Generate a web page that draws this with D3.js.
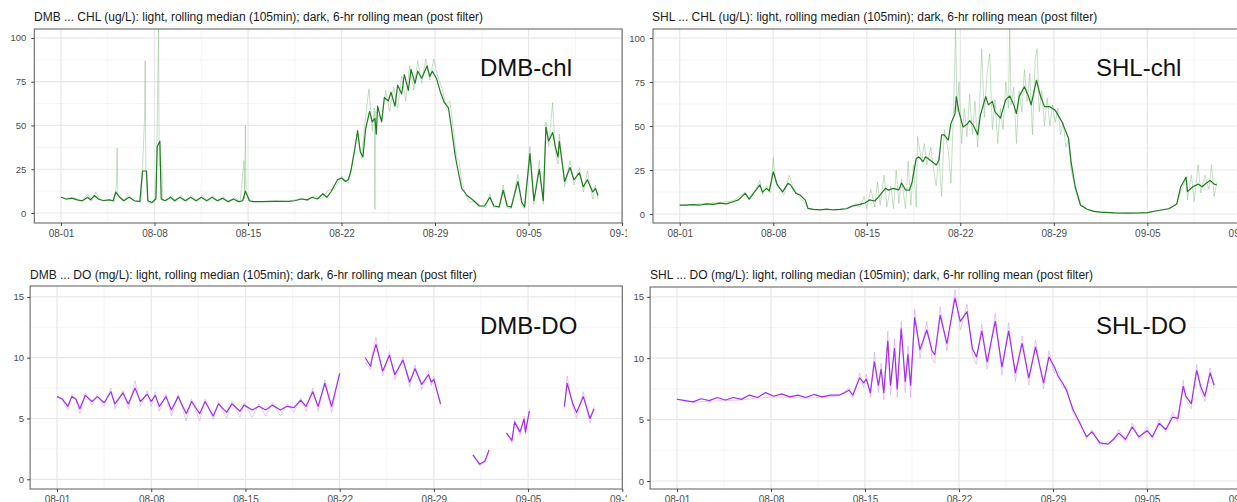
<!DOCTYPE html>
<html>
<head>
<meta charset="utf-8">
<script src="https://cdn.jsdelivr.net/npm/d3@7"></script>
<style>
body { margin: 0; background: #fff; }
svg text { font-family: "Liberation Sans", Arial, sans-serif; }
</style>
</head>
<body>
<svg id="chart" width="1237" height="502"></svg>
<script>
const tickDays = [0, 7, 14, 21, 28, 35, 42]
const chlTicks = [0, 25, 50, 75, 100]
const doTicks = [0, 5, 10, 15]

const dmbChlDark = [[0,9],[0.4,8],[0.8,8.5],[1.2,7.5],[1.6,7],[2,9],[2.2,7.5],[2.5,10],[2.8,8],[3.2,7],[3.6,7.5],[3.9,7],[4.1,12],[4.4,9],[4.7,7],[5.1,9],[5.5,7],[5.9,6.5],[6.1,24],[6.4,24],[6.5,7],[6.8,6],[7.1,8],[7.2,38],[7.4,41],[7.5,8],[7.8,7],[8.2,9],[8.5,7],[8.9,9],[9.3,7],[9.7,9],[10.1,7],[10.5,9],[10.9,7],[11.3,9],[11.7,7],[12.1,8.5],[12.5,6.5],[12.9,8],[13.3,6.5],[13.6,7],[13.8,12.5],[14.1,7],[14.4,6.5],[15,6.5],[16,6.6],[17,6.7],[17.5,7],[18,8],[18.4,7.5],[18.8,9],[19.2,8],[19.6,11],[19.9,9],[20.2,12],[20.7,19],[21,20],[21.3,18],[21.5,19],[21.7,24],[22,37],[22.2,47],[22.4,35],[22.6,32],[22.8,48],[23.1,58],[23.3,52],[23.5,54],[23.6,45],[23.7,61],[24,52],[24.2,66],[24.5,64],[24.7,69],[25,61],[25.2,73],[25.5,68],[25.7,79],[26,70],[26.2,82],[26.5,74],[26.7,81],[27,77],[27.4,84],[27.6,78],[27.8,81],[28.1,77],[28.4,69],[28.7,63],[29,60],[29.2,50],[29.5,33],[29.7,25],[30,14],[30.4,10],[30.9,7],[31.3,4],[31.7,4],[32.1,9],[32.4,4],[32.8,3.5],[33.1,13],[33.4,4],[33.7,3.4],[34.2,18],[34.5,6],[34.7,3.4],[35.1,34],[35.4,7],[35.8,25],[36.1,7],[36.3,49],[36.5,41],[36.8,46],[37,38],[37.2,32],[37.3,41],[37.7,18],[38.1,26],[38.4,19],[38.8,23],[39.1,15],[39.4,19],[39.8,12],[40,14],[40.2,10]]
const dmbChlLight = [[0,9],[0.5,7.5],[1,9],[1.5,6.5],[2,11],[2.3,7],[2.6,12],[3,7],[3.5,8],[4,6.5],[4.15,16],[4.2,37],[4.25,10],[4.6,7],[5.1,10],[5.5,6.5],[6,7],[6.1,25],[6.25,53],[6.3,87],[6.35,25],[6.5,6],[6.8,5.5],[7.1,9],[7.15,25],[7.3,105],[7.35,27],[7.55,27],[7.6,7],[8,8],[8.3,10],[8.6,6.5],[9,10],[9.4,6.5],[9.8,10],[10.2,6.5],[10.6,10],[11,6.5],[11.4,10],[11.8,6.5],[12.2,9],[12.6,6],[13,9],[13.4,6],[13.7,30],[13.75,8],[13.8,50],[13.85,12],[14.2,6.5],[15,6.5],[16,7],[17,6.5],[18,8.5],[18.5,7],[19,10],[19.5,8],[20,13],[20.5,14],[21,21],[21.5,17],[21.8,28],[22,38],[22.2,46],[22.5,31],[22.8,55],[23.05,71],[23.3,47],[23.45,60],[23.5,2],[23.55,58],[24,53],[24.3,70],[24.6,58],[24.9,72],[25.2,60],[25.5,78],[25.8,64],[26.1,84],[26.4,70],[26.7,87],[27,74],[27.3,88],[27.6,76],[27.9,88],[28.2,78],[28.5,72],[28.8,62],[29.1,64],[29.4,46],[29.6,32],[29.8,30],[30,18],[30.3,10],[30.6,6],[31,7],[31.4,4],[31.8,3],[32.1,11],[32.4,3],[32.8,3],[33.1,16],[33.4,3],[33.7,2.5],[34.2,22],[34.5,4],[34.7,2.5],[35.1,38],[35.4,5],[35.8,30],[36.1,5],[36.3,52],[36.5,38],[36.8,63],[37,34],[37.2,28],[37.3,45],[37.7,15],[38.1,30],[38.4,16],[38.8,26],[39.1,12],[39.4,24],[39.8,8],[40,16],[40.2,8]]

const shlChlDark = [[0,5.1],[0.5,5],[1,5.3],[1.5,5],[2,5.8],[2.5,5.5],[3,6.2],[3.5,5.8],[4,7],[4.4,8],[4.9,11.7],[5.2,8.5],[5.7,13.6],[6,16.5],[6.2,12.4],[6.5,14.6],[6.7,13],[7,24],[7.3,16.5],[7.7,12.6],[8.1,17.4],[8.3,16.5],[8.7,11.7],[9,10.8],[9.4,7.9],[9.6,3.2],[10,2.6],[10.5,2.4],[11,2.8],[11.5,2.3],[12,2.6],[12.5,3],[12.9,4.5],[13.5,5.5],[13.9,6.4],[14.2,8],[14.6,7.4],[14.9,9.9],[15.4,14.6],[15.6,13.6],[16,14.6],[16.4,13.7],[16.6,17.6],[16.9,13.7],[17.2,13.6],[17.4,18.5],[17.7,31.6],[17.9,32.5],[18.2,29.7],[18.4,32.5],[18.9,29.7],[19.2,27.8],[19.4,30.7],[19.6,45],[19.8,45],[20.1,42],[20.3,51.5],[20.6,57],[20.7,66.7],[20.9,58],[21.2,49.5],[21.5,51],[21.7,53],[22,50],[22.3,45],[22.5,56],[22.9,66.7],[23.1,62],[23.4,64],[23.6,58],[24,54.5],[24.4,65],[24.7,67],[25,62],[25.2,57],[25.4,66.7],[25.8,72.3],[26.1,67],[26.3,62],[26.7,76],[27,67],[27.3,61],[27.7,61],[28.1,59],[28.6,52.5],[29.1,43],[29.3,29],[29.6,15.5],[30,5],[30.5,2.7],[31,1.5],[31.5,1.1],[32.5,0.7],[33.5,0.5],[34.5,0.6],[35,0.8],[35.6,1.7],[36.6,3],[37.2,5.7],[37.5,15.5],[37.9,21],[38,12.7],[38.4,15.5],[38.8,17],[39.1,15.5],[39.4,17.5],[39.7,19],[40,17],[40.2,16.5]]
const shlChlLight = [[0,5],[1,5.5],[2,6],[3,6.5],[4,7.5],[4.9,12.5],[5.2,8],[5.7,14],[6,19],[6.2,11],[6.5,16],[6.8,12],[7,32],[7.2,18],[7.5,14],[7.8,11],[8.2,22],[8.5,15],[8.9,10],[9.3,7],[9.6,3],[10,2.5],[11,2.5],[12,2.7],[12.8,4],[13.2,6],[13.5,4],[13.8,10],[14,3],[14.3,14],[14.6,4],[14.8,18],[15,5],[15.3,22],[15.5,4],[15.8,16],[16,3],[16.2,25],[16.4,6],[16.6,20],[16.9,3],[17.1,30],[17.3,5],[17.5,28],[17.7,4],[17.8,44],[18.1,30],[18.3,40],[18.5,28],[18.8,38],[19,25],[19.2,16],[19.4,33],[19.6,10],[19.8,48],[20.1,36],[20.3,17.5],[20.5,60],[20.65,105],[20.75,58],[20.9,75],[21.1,40],[21.3,60],[21.5,44],[21.7,68],[21.9,45],[22.1,64],[22.3,38],[22.5,72],[22.6,94],[22.8,55],[23,80],[23.2,91],[23.4,48],[23.6,65],[23.8,40],[24,60],[24.2,48],[24.4,75],[24.6,60],[24.7,105],[24.8,62],[25,72],[25.2,40],[25.4,70],[25.6,58],[25.8,82],[26,64],[26.2,80],[26.4,45],[26.6,88],[26.75,94],[26.9,58],[27.1,70],[27.3,50],[27.5,66],[27.7,50],[27.9,62],[28.1,52],[28.3,60],[28.5,45],[28.7,52],[28.9,38],[29.1,42],[29.3,25],[29.6,14],[30,5],[30.5,2.5],[31,1.3],[33,0.5],[35,0.7],[36.6,3],[37.2,5.5],[37.5,13],[37.9,20],[38,8],[38.3,22],[38.5,7],[38.8,28],[39,12],[39.3,22],[39.6,14],[39.8,28],[40,10],[40.2,18]]

const dmbDoDark = [[0,6.8],[0.4,6.6],[0.8,6.0],[1.1,6.8],[1.4,6.6],[1.7,5.8],[2.1,6.9],[2.6,6.4],[3,6.8],[3.5,6.3],[4,7.2],[4.3,6.2],[4.9,7.1],[5.3,6.2],[5.8,7.5],[6.2,6.4],[6.7,7.0],[7,6.4],[7.3,6.9],[7.6,6.0],[8.1,6.8],[8.5,5.7],[9,6.8],[9.6,5.4],[10,6.4],[10.6,5.4],[11,6.4],[11.6,5.2],[12,6.2],[12.6,5.5],[13,6.2],[13.6,5.6],[13.9,6.1],[14.5,5.7],[15,6.0],[15.5,5.7],[16,6.1],[16.6,5.7],[17.1,6.0],[17.6,5.9],[18.1,6.5],[18.5,6.0],[19,7.2],[19.4,6.0],[19.9,7.9],[20.4,6.0],[21,8.7],[22,null],[22.9,10.0],[23.3,9.3],[23.4,9.9],[23.7,11.1],[24.2,8.9],[24.7,10.2],[25.1,8.6],[25.7,9.8],[26.2,8.0],[26.6,9.1],[27.1,7.8],[27.6,8.6],[27.8,8.0],[28,8.2],[28.5,6.2],[29.5,null],[30.9,2.0],[31.4,1.24],[31.8,1.5],[32.1,2.4],[32.8,null],[33.4,3.8],[33.8,3.2],[34,4.7],[34.4,3.9],[34.7,4.95],[34.8,3.9],[35.1,5.6],[36.5,null],[37.7,6.0],[37.9,7.9],[38.3,6.3],[38.6,5.5],[39.1,6.8],[39.6,5.0],[39.9,5.8]]
const dmbDoLight = [[0,6.9],[0.4,6.5],[0.8,5.7],[1.1,7.0],[1.4,6.5],[1.7,5.4],[2.1,7.1],[2.6,6.1],[3,7.0],[3.5,6.0],[4,7.5],[4.3,5.8],[4.9,7.3],[5.3,5.8],[5.8,8.1],[6.2,6.0],[6.7,7.3],[7,6.0],[7.3,7.2],[7.6,5.6],[8.1,7.0],[8.5,5.2],[9,7.0],[9.6,4.8],[10,6.6],[10.6,4.8],[11,6.6],[11.6,4.9],[12,6.4],[12.6,5.0],[13,6.4],[13.6,5.1],[13.9,6.3],[14.5,5.1],[15,6.2],[15.5,5.2],[16,6.3],[16.6,5.2],[17.1,6.2],[17.6,5.5],[18.1,6.7],[18.5,5.6],[19,7.5],[19.4,5.6],[19.9,8.2],[20.4,5.5],[21,8.8],[22,null],[22.9,9.6],[23.3,9.0],[23.4,10.2],[23.7,11.7],[24.2,8.5],[24.7,10.5],[25.1,8.2],[25.7,10.1],[26.2,7.6],[26.6,9.4],[27.1,7.4],[27.6,8.9],[27.8,7.7],[28,8.5],[28.5,6.0],[29.5,null],[30.9,2.1],[31.4,1.1],[31.8,1.4],[32.1,2.5],[32.8,null],[33.4,3.9],[33.8,3.0],[34,4.9],[34.4,3.6],[34.7,5.2],[34.8,3.7],[35.1,5.8],[36.5,null],[37.7,5.8],[37.9,8.5],[38.3,6.0],[38.6,5.0],[39.1,7.2],[39.6,4.6],[39.9,6.0]]

const shlDoDark = [[0,6.66],[0.6,6.55],[1.2,6.45],[1.8,6.7],[2.4,6.55],[3,6.8],[3.6,6.6],[4.2,6.8],[4.8,6.65],[5.4,7.0],[6,6.8],[6.6,7.2],[7.2,6.9],[7.8,7.1],[8.4,6.85],[9,7.0],[9.6,6.8],[10.2,7.05],[10.8,6.85],[11.4,7.0],[12.1,7.0],[12.5,7.2],[12.8,7.4],[13.1,7.0],[13.6,8.4],[13.9,8.0],[14.1,8.3],[14.4,7.2],[14.7,9.7],[15,7.8],[15.2,9.1],[15.4,7.2],[15.7,11.4],[15.9,7.8],[16.2,10.8],[16.4,7.5],[16.7,12.4],[17,8.1],[17.2,10.3],[17.4,7.8],[17.7,13.3],[18.1,10.7],[18.6,12.3],[19,10.6],[19.2,10.3],[19.6,13.5],[20.1,11.2],[20.7,14.9],[21.1,13.0],[21.6,13.8],[22,10.8],[22.3,10.1],[22.7,12.2],[23.1,9.7],[23.7,13.0],[24.2,9.3],[24.7,12.2],[25.2,8.8],[25.7,11.2],[26.2,8.4],[26.7,10.9],[27.3,8.0],[27.7,10.1],[28.1,9.3],[28.4,8.5],[28.7,8.0],[29,7.4],[29.5,5.8],[30,4.7],[30.5,3.6],[30.9,4.0],[31.5,3.1],[32.1,3.0],[32.5,3.4],[32.9,3.9],[33.4,3.4],[33.9,4.4],[34.4,3.6],[35,4.1],[35.4,3.6],[35.9,4.7],[36.4,4.2],[36.9,5.2],[37.3,5.1],[37.7,7.7],[37.9,6.9],[38.3,6.3],[38.7,9.0],[39,7.7],[39.3,6.9],[39.7,8.8],[40,7.8]]
const shlDoLight = [[0,6.7],[1.2,6.4],[2.4,6.5],[3.6,6.55],[4.8,6.6],[6,6.75],[7.2,6.85],[8.4,6.8],[9.6,6.75],[10.8,6.8],[12.1,6.95],[12.8,7.6],[13.1,6.8],[13.6,8.8],[13.9,7.6],[14.1,8.7],[14.4,6.8],[14.7,10.5],[15,7.2],[15.2,9.6],[15.4,6.6],[15.7,12.2],[15.9,7.0],[16.2,11.6],[16.4,6.8],[16.7,13.0],[17,7.2],[17.2,11.0],[17.4,6.8],[17.7,14.0],[18.1,10.0],[18.6,13.0],[19,10.0],[19.2,9.6],[19.6,14.2],[20.1,10.6],[20.7,15.6],[21.1,12.3],[21.6,14.4],[22,10.2],[22.3,9.5],[22.7,12.8],[23.1,9.1],[23.7,13.7],[24.2,8.6],[24.7,12.9],[25.2,8.1],[25.7,11.8],[26.2,7.8],[26.7,11.5],[27.3,7.5],[27.7,10.6],[28.1,8.8],[28.4,8.9],[28.7,7.6],[29,7.7],[29.5,5.5],[30,4.9],[30.5,3.4],[30.9,4.2],[31.5,2.9],[32.1,3.2],[32.5,3.2],[32.9,4.2],[33.4,3.2],[33.9,4.7],[34.4,3.4],[35,4.4],[35.4,3.4],[35.9,5.0],[36.4,4.0],[36.9,5.6],[37.3,4.8],[37.7,8.2],[37.9,6.6],[38.3,5.9],[38.7,9.5],[39,7.3],[39.3,6.5],[39.7,9.2],[40,7.5]]

const start = Date.UTC(2021, 7, 1)
const toDate = day => new Date(start + day * 864e5)

function LinePanel(cfg) {
    const svg = d3.select('#chart')
    const clipId = cfg.name + '-clip'

    svg.append('clipPath')
        .attr('id', clipId)
        .append('rect')
        .attr('x', cfg.clip[0]).attr('y', cfg.clip[1])
        .attr('width', cfg.clip[2]).attr('height', cfg.clip[3])

    const g = svg.append('g')
        .attr('clip-path', `url(#${clipId})`)

    let xScale = d3.scaleUtc()
        .domain([toDate(-2), toDate(42)])
        .range([cfg.left, cfg.right])

    let yScale = d3.scaleLinear()
        .domain(cfg.yDomain)
        .range([cfg.bottom, cfg.top])

    const grid = g.append('g').attr('class', 'grid')
    const lines = g.append('g').attr('class', 'lines')

    function update(dark, light) {
        const minorX = d3.pairs(tickDays).map(p => (p[0] + p[1]) / 2)
        const minorY = d3.pairs(cfg.yTicks).map(p => (p[0] + p[1]) / 2)

        grid.selectAll('.minor-x')
            .data(minorX)
            .join('line')
            .attr('class', 'minor-x')
            .attr('x1', d => xScale(toDate(d))).attr('x2', d => xScale(toDate(d)))
            .attr('y1', cfg.top).attr('y2', cfg.bottom)
            .attr('stroke', '#f3f3f3').attr('stroke-width', 0.8)

        grid.selectAll('.minor-y')
            .data(minorY)
            .join('line')
            .attr('class', 'minor-y')
            .attr('x1', cfg.left).attr('x2', cfg.right)
            .attr('y1', d => yScale(d)).attr('y2', d => yScale(d))
            .attr('stroke', '#f3f3f3').attr('stroke-width', 0.8)

        grid.selectAll('.major-x')
            .data(tickDays)
            .join('line')
            .attr('class', 'major-x')
            .attr('x1', d => xScale(toDate(d))).attr('x2', d => xScale(toDate(d)))
            .attr('y1', cfg.top).attr('y2', cfg.bottom)
            .attr('stroke', '#e8e8e8').attr('stroke-width', 1.2)

        grid.selectAll('.major-y')
            .data(cfg.yTicks)
            .join('line')
            .attr('class', 'major-y')
            .attr('x1', cfg.left).attr('x2', cfg.right)
            .attr('y1', d => yScale(d)).attr('y2', d => yScale(d))
            .attr('stroke', '#e8e8e8').attr('stroke-width', 1.2)

        const line = d3.line()
            .defined(d => d[1] != null)
            .x(d => xScale(toDate(d[0])))
            .y(d => yScale(d[1]))

        lines.append('path')
            .datum(light)
            .attr('fill', 'none')
            .attr('stroke', cfg.lightColor)
            .attr('stroke-opacity', 0.45)
            .attr('stroke-width', 1)
            .attr('d', line)

        lines.append('path')
            .datum(dark)
            .attr('fill', 'none')
            .attr('stroke', cfg.darkColor)
            .attr('stroke-width', 1.2)
            .attr('stroke-linejoin', 'round')
            .attr('d', line)

        g.append('rect')
            .attr('x', cfg.left).attr('y', cfg.top)
            .attr('width', cfg.right - cfg.left).attr('height', cfg.bottom - cfg.top)
            .attr('fill', 'none')
            .attr('stroke', '#5a5a5a')
            .attr('stroke-width', 1)

        const xAxis = d3.axisBottom(xScale)
            .tickValues(tickDays.map(toDate))
            .tickFormat(d3.utcFormat('%m-%d'))
            .tickSize(3)
            .tickPadding(4)

        const yAxis = d3.axisLeft(yScale)
            .tickValues(cfg.yTicks)
            .tickSize(3)
            .tickPadding(cfg.yPad)

        const styleAxis = (a, size) => {
            a.select('.domain').remove()
            a.selectAll('line').attr('stroke', '#444')
            a.selectAll('text')
                .attr('fill', '#4d4d4d')
                .style('font-size', size)
                .style('font-family', '"Liberation Sans", Arial, sans-serif')
        }

        g.append('g')
            .attr('transform', `translate(0, ${cfg.bottom})`)
            .call(xAxis)
            .call(styleAxis, '10px')

        g.append('g')
            .attr('transform', `translate(${cfg.left}, 0)`)
            .call(yAxis)
            .call(styleAxis, '9.5px')

        g.append('text')
            .attr('x', cfg.titleX).attr('y', cfg.titleY)
            .attr('fill', '#1a1a1a')
            .style('font-size', '12px')
            .text(cfg.title)

        g.append('text')
            .attr('x', cfg.labelX).attr('y', cfg.labelY)
            .attr('fill', '#111')
            .style('font-size', '24px')
            .text(cfg.label)
    }

    return {
        update
    }
}

const green = { darkColor: '#1e7b1e', lightColor: '#7fb87f' }
const purple = { darkColor: '#a22cf0', lightColor: '#c98af7' }

const dmbChlPanel = LinePanel({
    name: 'dmb-chl', clip: [0, 0, 627, 255],
    left: 34.3, right: 622.1, top: 29, bottom: 223, yDomain: [-5.7, 105.1], yTicks: chlTicks, yPad: 5,
    title: 'DMB ... CHL (ug/L): light, rolling median (105min); dark, 6-hr rolling mean (post filter)',
    titleX: 34, titleY: 21, label: 'DMB-chl', labelX: 480, labelY: 76, ...green
})
dmbChlPanel.update(dmbChlDark, dmbChlLight)

const shlChlPanel = LinePanel({
    name: 'shl-chl', clip: [627, 0, 610, 255],
    left: 653, right: 1240.9, top: 29, bottom: 223, yDomain: [-5.1, 105.1], yTicks: chlTicks, yPad: 5,
    title: 'SHL ... CHL (ug/L): light, rolling median (105min); dark, 6-hr rolling mean (post filter)',
    titleX: 652, titleY: 21, label: 'SHL-chl', labelX: 1096, labelY: 76, ...green
})
shlChlPanel.update(shlChlDark, shlChlLight)

const dmbDoPanel = LinePanel({
    name: 'dmb-do', clip: [0, 255, 627, 247],
    left: 30.1, right: 622.3, top: 286, bottom: 489, yDomain: [-0.8, 15.9], yTicks: doTicks, yPad: 3,
    title: 'DMB ... DO (mg/L): light, rolling median (105min); dark, 6-hr rolling mean (post filter)',
    titleX: 30, titleY: 279, label: 'DMB-DO', labelX: 480, labelY: 334, ...purple
})
dmbDoPanel.update(dmbDoDark, dmbDoLight)

const shlDoPanel = LinePanel({
    name: 'shl-do', clip: [627, 255, 610, 247],
    left: 650.1, right: 1241, top: 287, bottom: 489, yDomain: [-0.65, 15.8], yTicks: doTicks, yPad: 3,
    title: 'SHL ... DO (mg/L): light, rolling median (105min); dark, 6-hr rolling mean (post filter)',
    titleX: 650, titleY: 279, label: 'SHL-DO', labelX: 1096, labelY: 334, ...purple
})
shlDoPanel.update(shlDoDark, shlDoLight)
</script>
</body>
</html>
